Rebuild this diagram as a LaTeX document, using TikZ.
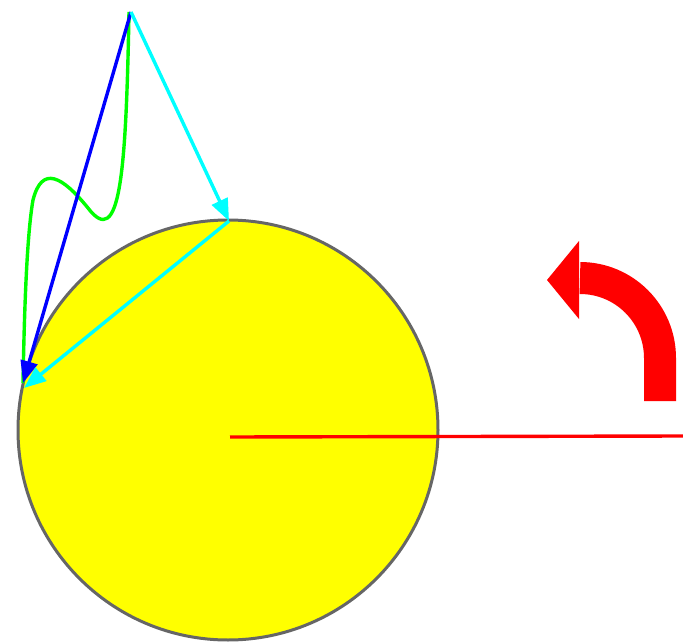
\documentclass[tikz,border=0pt]{standalone}
\usetikzlibrary{arrows.meta}
\definecolor{cY}{RGB}{255,255,0}
\definecolor{cC}{RGB}{0,255,255}
\definecolor{cG}{RGB}{0,255,0}
\definecolor{cB}{RGB}{0,0,255}
\definecolor{cR}{RGB}{255,0,0}
\definecolor{cGr}{RGB}{102,102,102}
\begin{document}
\begin{tikzpicture}[x=1pt,y=-1pt,
  conn/.style={line width=3.4pt,-{Triangle[length=22pt,width=17pt]}}]
\useasboundingbox (0,0) rectangle (683,642);
\node (circ) [circle,draw=cGr,line width=3pt,fill=cY,minimum size=420pt,inner sep=0pt] at (228,430) {};
\coordinate (rs) at (230,437);
\coordinate (re) at (683,436);
\draw[cR,line width=3.4pt] (rs) -- (re);
\coordinate (top) at (131,12);
\coordinate (gtop) at (129,12);
\coordinate (ctop) at (229,221);
\coordinate (lft) at (23,383);
\coordinate (lft2) at (24,388);
\draw[cG,line width=3.4pt] (gtop) .. controls (126,175) and (120,250) .. (88,208)
  .. controls (62,176) and (42,165) .. (33,200) .. controls (26,240) and (24,330) .. (23,383);
\draw[conn,cB] (top) -- (lft);
\draw[conn,cC] (top) -- (ctop);
\draw[conn,cC] (ctop) -- (lft2);
\coordinate (ra) at (660,401);
\draw[cR,line width=32pt] (ra) -- (660,358) arc[start angle=0,end angle=-90,radius=80] coordinate (rb);
\fill[cR] (579,241) -- (547,280) -- (579,319) -- cycle;
\end{tikzpicture}
\end{document}
